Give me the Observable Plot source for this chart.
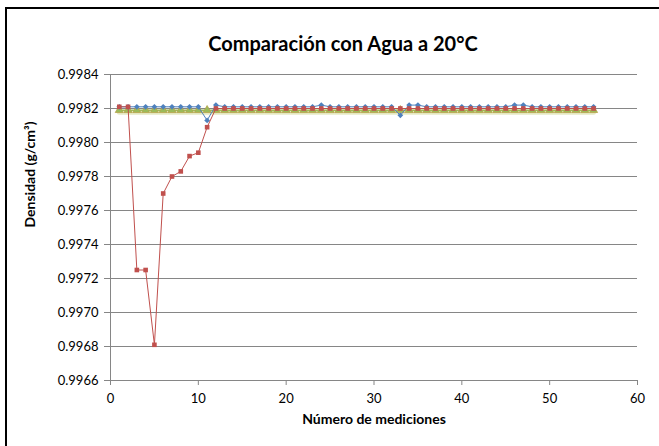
<!DOCTYPE html>
<html><head><meta charset="utf-8">
<script src="https://cdn.jsdelivr.net/npm/d3@7"></script>
<script src="https://cdn.jsdelivr.net/npm/@observablehq/plot@0.6"></script>
<style>
body{margin:0;background:#fff;}
#frame{position:relative;width:659px;height:446px;overflow:hidden;background:#fff;}
#border{position:absolute;left:5px;top:7px;width:700px;height:500px;border-left:2px solid #000;border-top:2px solid #000;pointer-events:none;}
</style></head><body><div id="frame"><div id="border"></div></div>
<script>
const mediciones = [1,2,3,4,5,6,7,8,9,10,11,12,13,14,15,16,17,18,19,20,21,22,23,24,25,26,27,28,29,30,31,32,33,34,35,36,37,38,39,40,41,42,43,44,45,46,47,48,49,50,51,52,53,54,55];
const serieAzul = [0.99821,0.99821,0.99821,0.99821,0.99821,0.99821,0.99821,0.99821,0.99821,0.99821,0.99813,0.99822,0.99821,0.99821,0.99821,0.99821,0.99821,0.99821,0.99821,0.99821,0.99821,0.99821,0.99821,0.99822,0.99821,0.99821,0.99821,0.99821,0.99821,0.99821,0.99821,0.99821,0.99816,0.99822,0.99822,0.99821,0.99821,0.99821,0.99821,0.99821,0.99821,0.99821,0.99821,0.99821,0.99821,0.99822,0.99822,0.99821,0.99821,0.99821,0.99821,0.99821,0.99821,0.99821,0.99821];
const serieRoja = [0.99821,0.99821,0.99725,0.99725,0.99681,0.99770,0.99780,0.99783,0.99792,0.99794,0.99809,0.99820,0.99820,0.99820,0.99820,0.99820,0.99820,0.99820,0.99820,0.99820,0.99820,0.99820,0.99820,0.99820,0.99820,0.99820,0.99820,0.99820,0.99820,0.99820,0.99820,0.99820,0.99820,0.99820,0.99820,0.99820,0.99820,0.99820,0.99820,0.99820,0.99820,0.99820,0.99820,0.99820,0.99820,0.99820,0.99820,0.99820,0.99820,0.99820,0.99820,0.99820,0.99820,0.99820,0.99820];
const serieVerde = [0.99819,0.99819,0.99819,0.99819,0.99819,0.99819,0.99819,0.99819,0.99819,0.99819,0.99819,0.99819,0.99819,0.99819,0.99819,0.99819,0.99819,0.99819,0.99819,0.99819,0.99819,0.99819,0.99819,0.99819,0.99819,0.99819,0.99819,0.99819,0.99819,0.99819,0.99819,0.99819,0.99819,0.99819,0.99819,0.99819,0.99819,0.99819,0.99819,0.99819,0.99819,0.99819,0.99819,0.99819,0.99819,0.99819,0.99819,0.99819,0.99819,0.99819,0.99819,0.99819,0.99819,0.99819,0.99819];
const xTicks = [0,10,20,30,40,50,60];
const yTicks = [0.9966,0.9968,0.9970,0.9972,0.9974,0.9976,0.9978,0.9980,0.9982,0.9984];
const titulo = "Comparación con Agua a 20°C";
const tituloX = "Número de mediciones";
const tituloY = "Densidad (g/cm³)";

const azul = mediciones.map((m,i)=>({m, v: serieAzul[i]}));
const roja = mediciones.map((m,i)=>({m, v: serieRoja[i]}));
const verde = mediciones.map((m,i)=>({m, v: serieVerde[i]}));

const grid = "#868686";
const chart = Plot.plot({
  width: 659, height: 446,
  marginLeft: 110, marginRight: 22, marginTop: 74, marginBottom: 66,
  style: {fontFamily: "Lato, 'Open Sans', sans-serif", fontSize: "13px", color: "#000", background: "transparent"},
  x: {domain: [0, 60]},
  y: {domain: [0.9966, 0.9984]},
  marks: [
    Plot.ruleY(yTicks, {stroke: grid, strokeWidth: 1}),
    Plot.ruleX([0], {stroke: grid, strokeWidth: 1}),
    Plot.axisY({ticks: yTicks, tickFormat: d3.format(".4f"), tickSize: 6, tickPadding: 6, stroke: grid, fill: "#000", label: null, fontSize: 13}),
    Plot.axisX({ticks: xTicks, tickFormat: d => String(d), tickSize: 5, tickPadding: 8, stroke: grid, fill: "#000", label: null, fontSize: 13}),
    // verde con sombra
    Plot.line(verde, {x: "m", y: "v", stroke: "#b7c35a", strokeWidth: 5, strokeOpacity: 0.35, dy: 2}),
    Plot.line(verde, {x: "m", y: "v", stroke: "#9BBB59", strokeWidth: 1.5}),
    Plot.dot(verde, {x: "m", y: "v", symbol: "triangle", r: 3, fill: "#9BBB59", stroke: "#b8a24a", strokeWidth: 0.8}),
    // azul
    Plot.line(azul, {x: "m", y: "v", stroke: "#4F81BD", strokeWidth: 1}),
    Plot.dot(azul, {x: "m", y: "v", symbol: "diamond2", r: 2.6, fill: "#4F81BD", stroke: "none"}),
    // roja
    Plot.line(roja, {x: "m", y: "v", stroke: "#C0504D", strokeWidth: 1}),
    Plot.dot(roja, {x: "m", y: "v", symbol: "square", r: 2.6, fill: "#C0504D", stroke: "none"}),
    // títulos
    Plot.text([titulo], {frameAnchor: "top", dx: -31, dy: -38, fontSize: 20, fontWeight: "bold", fill: "#000"}),
    Plot.text([tituloX], {frameAnchor: "bottom", dy: 43, fontSize: 14, fontWeight: "bold", fill: "#000"}),
    Plot.text([tituloY], {frameAnchor: "left", dx: -80, rotate: -90, fontSize: 14, fontWeight: "bold", fill: "#000"})
  ]
});
document.getElementById("frame").prepend(chart);
</script>
</body></html>
